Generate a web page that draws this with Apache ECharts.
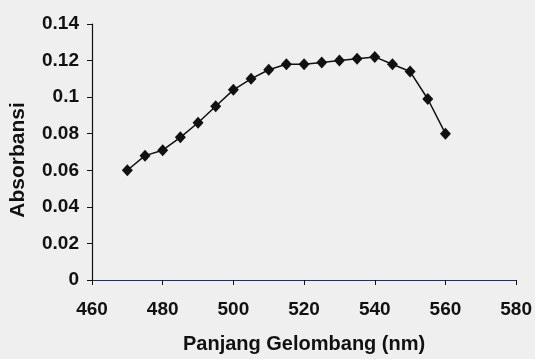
<!DOCTYPE html>
<html>
<head>
<meta charset="utf-8">
<script src="https://cdn.jsdelivr.net/npm/echarts@6/dist/echarts.min.js"></script>
<style>
  html, body { margin: 0; padding: 0; background: #efefef; }
  #chart { width: 535px; height: 359px; }
</style>
</head>
<body>
<div id="chart"></div>
<script>
  // panjang gelombang (nm)
  var wavelengths = [470, 475, 480, 485, 490, 495, 500, 505, 510, 515, 520, 525, 530, 535, 540, 545, 550, 555, 560]
  // absorbansi
  var absorbance = [0.060, 0.068, 0.071, 0.078, 0.086, 0.095, 0.104, 0.110, 0.115, 0.118, 0.118, 0.119, 0.120, 0.121, 0.122, 0.118, 0.114, 0.099, 0.080]

  var points = wavelengths.map(function (w, i) { return [w, absorbance[i]] })

  var myChart = echarts.init(document.getElementById('chart'))
  var option = {
    backgroundColor: '#efefef',
    animation: false,
    grid: { left: 92, right: 17, top: 24, bottom: 73 },
    xAxis: {
      type: 'value',
      min: 460,
      max: 580,
      interval: 20,
      name: 'Panjang Gelombang (nm)',
      nameLocation: 'middle',
      nameGap: 54,
      nameTextStyle: { color: '#111', fontSize: 20, fontWeight: 'bold', fontFamily: 'Liberation Sans' },
      axisLine: { lineStyle: { color: '#1d2f6a', width: 1.2 } },
      axisTick: { show: true, length: 5, lineStyle: { color: '#111' } },
      axisLabel: { color: '#111', fontSize: 19, fontWeight: 'bold', fontFamily: 'Liberation Sans', margin: 20 },
      splitLine: { show: false }
    },
    yAxis: {
      type: 'value',
      min: 0,
      max: 0.14,
      interval: 0.02,
      name: 'Absorbansi',
      nameLocation: 'middle',
      nameGap: 63,
      nameRotate: 90,
      nameTextStyle: { color: '#111', fontSize: 21, fontWeight: 'bold', fontFamily: 'Liberation Sans', padding: [0, 16, 0, 0] },
      axisLine: { show: true, lineStyle: { color: '#111', width: 1.2 } },
      axisTick: { show: true, length: 5, lineStyle: { color: '#111' } },
      axisLabel: { color: '#111', fontSize: 19, fontWeight: 'bold', fontFamily: 'Liberation Sans', margin: 13 },
      splitLine: { show: false }
    },
    series: [
      {
        type: 'line',
        data: points,
        symbol: 'diamond',
        symbolSize: [11, 12],
        lineStyle: { color: '#111', width: 1.5 },
        itemStyle: { color: '#111' }
      }
    ]
  }
  myChart.setOption(option)
</script>
</body>
</html>
